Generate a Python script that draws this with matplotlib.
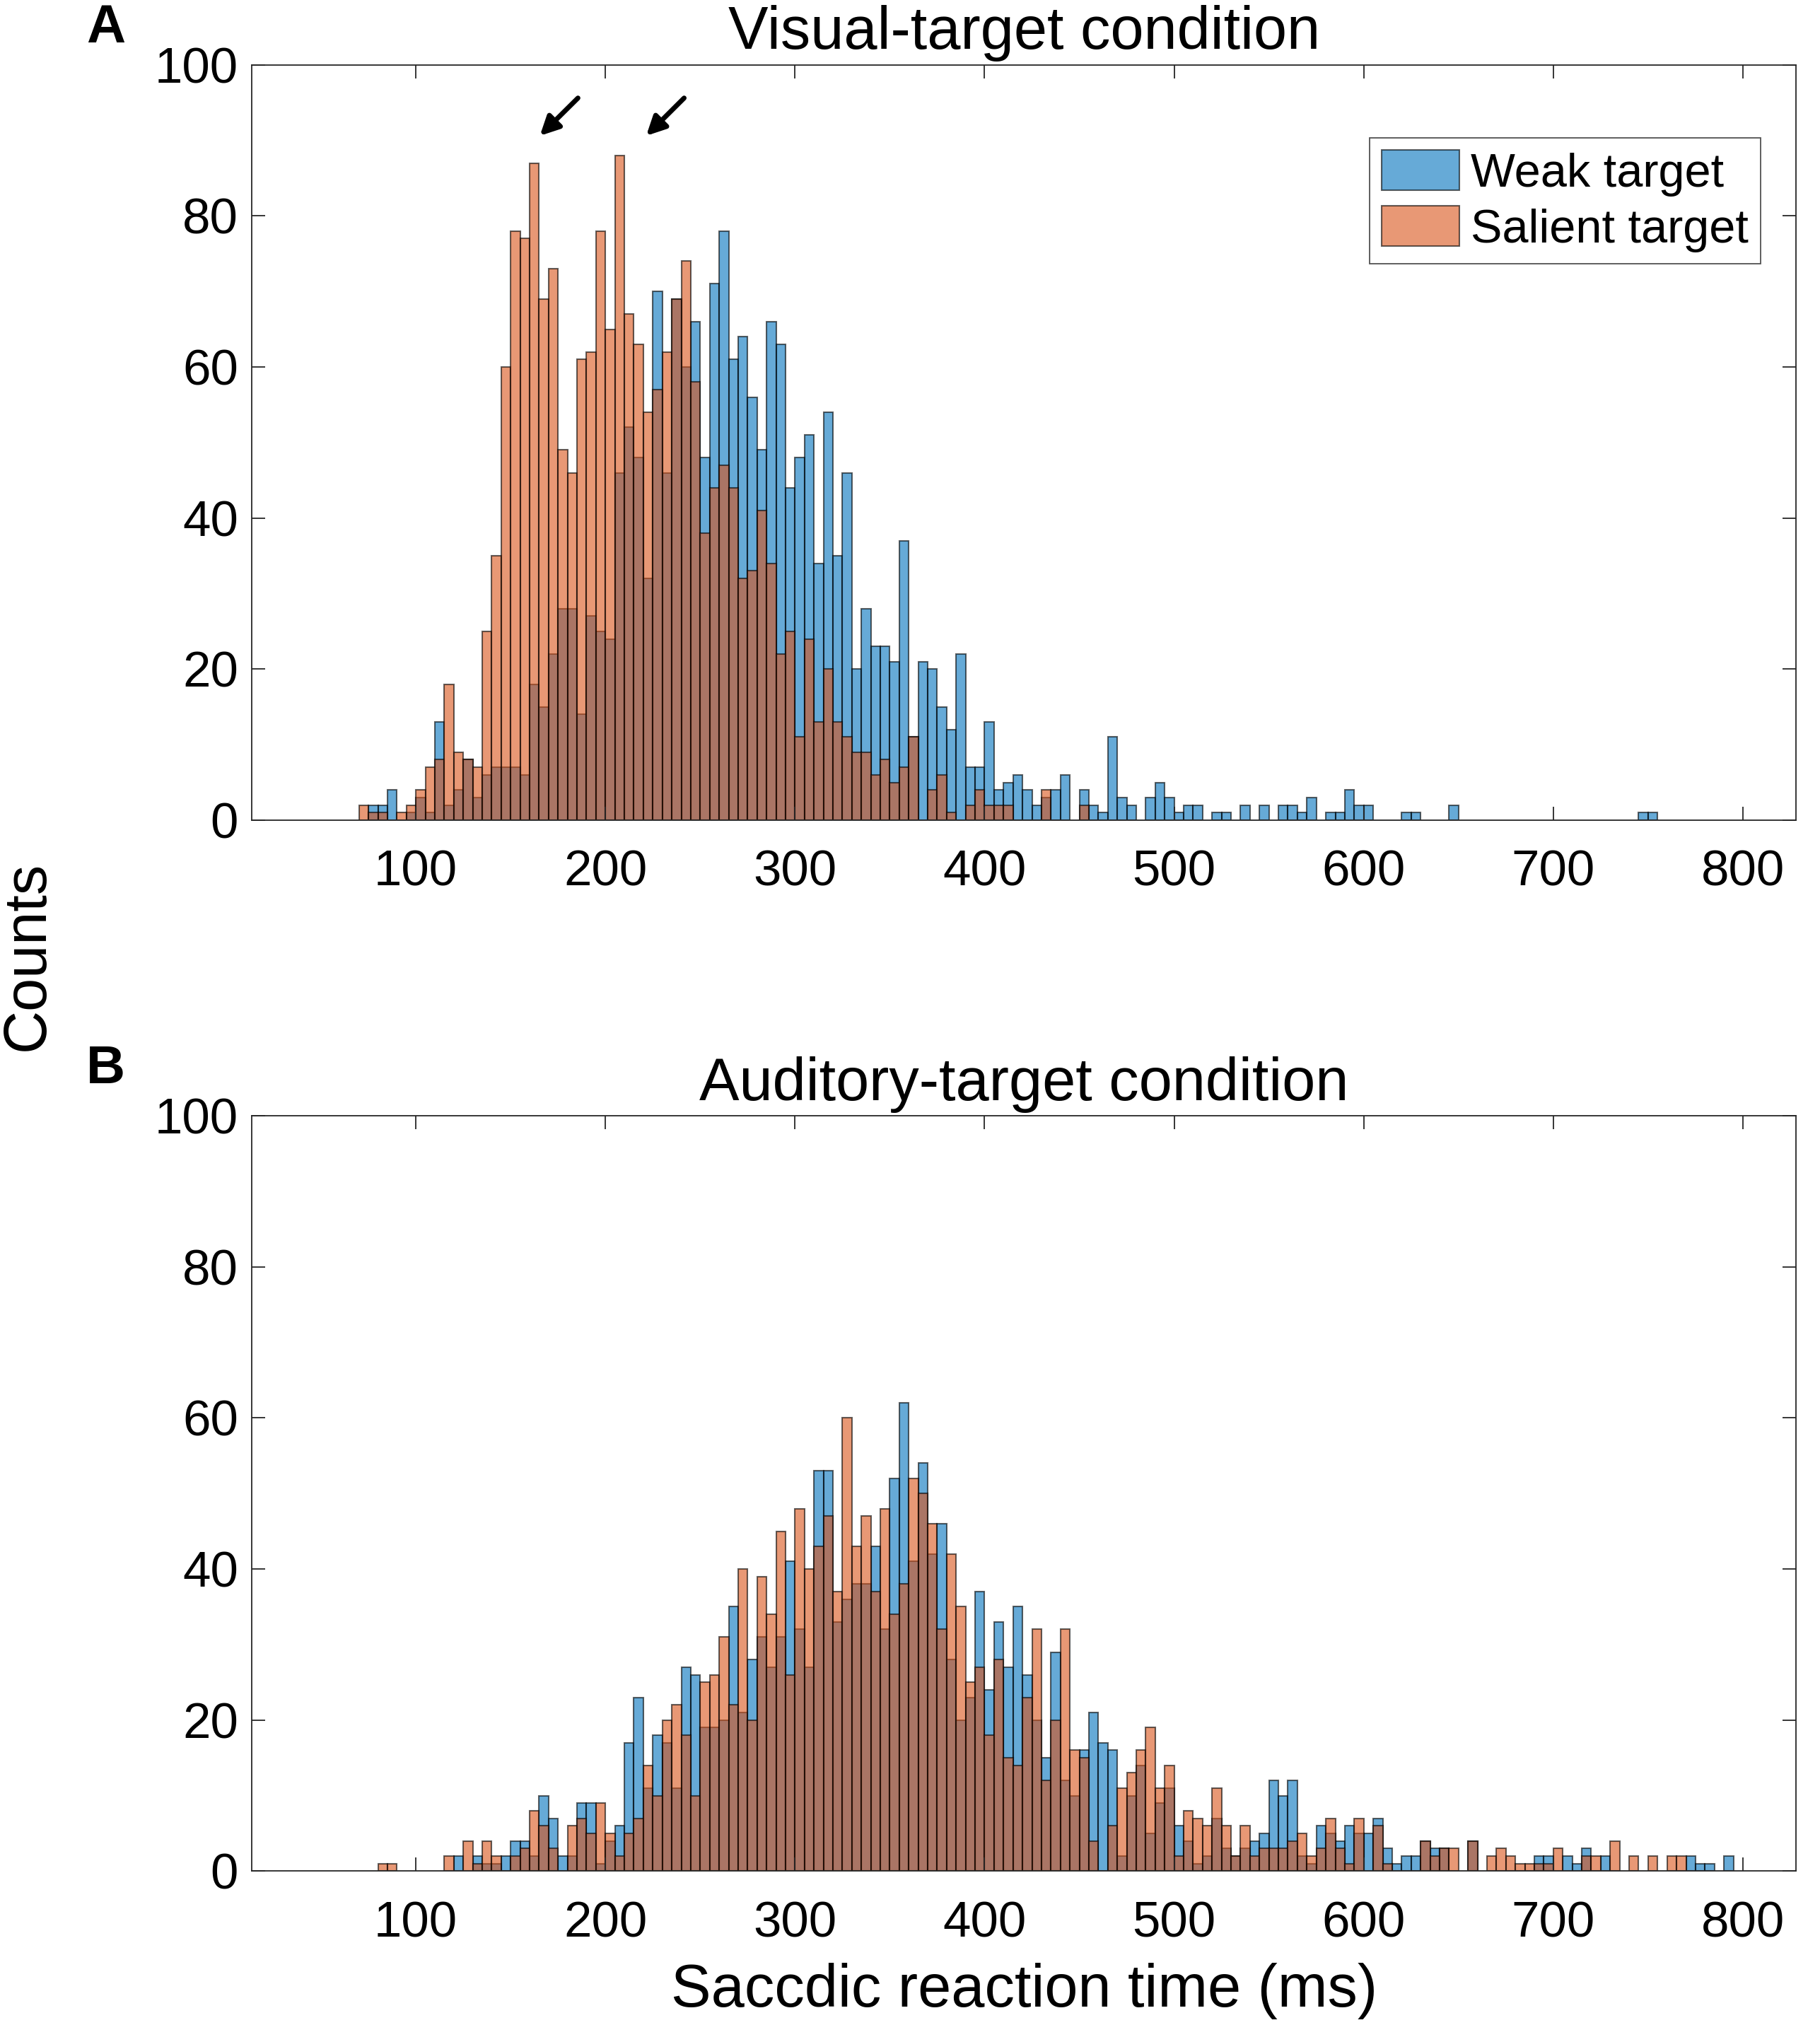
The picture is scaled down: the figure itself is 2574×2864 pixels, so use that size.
import numpy as np
import matplotlib
matplotlib.use("Agg")
import matplotlib.pyplot as plt

plt.rcParams['font.family'] = ['Liberation Sans', 'DejaVu Sans']

# bin starts (ms), 5 ms bins
vis_bins = np.arange(70, 755, 5)
aud_bins = np.arange(80, 795, 5)

# A: visual-target condition
vis_weak = [0, 2, 2, 4, 0, 1, 3, 1, 13, 2, 4, 8, 3, 6, 7, 7, 7, 6, 18, 15,
            22, 28, 28, 14, 27, 25, 24, 46, 52, 48, 32, 70, 46, 69, 60, 66, 48, 71, 78, 61,
            64, 56, 49, 66, 63, 44, 48, 51, 34, 54, 35, 46, 20, 28, 23, 23, 21, 37, 11, 21,
            20, 15, 12, 22, 7, 7, 13, 4, 5, 6, 4, 2, 3, 4, 6, 0, 4, 2, 1, 11,
            3, 2, 0, 3, 5, 3, 1, 2, 2, 0, 1, 1, 0, 2, 0, 2, 0, 2, 2, 1,
            3, 0, 1, 1, 4, 2, 2, 0, 0, 0, 1, 1, 0, 0, 0, 2, 0, 0, 0, 0,
            0, 0, 0, 0, 0, 0, 0, 0, 0, 0, 0, 0, 0, 0, 0, 1, 1]
vis_salient = [2, 1, 1, 0, 1, 2, 4, 7, 8, 18, 9, 8, 7, 25, 35, 60, 78, 77, 87, 69,
               73, 49, 46, 61, 62, 78, 65, 88, 67, 63, 54, 57, 62, 69, 74, 58, 38, 44, 47, 44,
               32, 33, 41, 34, 22, 25, 11, 24, 13, 20, 13, 11, 9, 9, 6, 8, 5, 7, 11, 0,
               4, 6, 1, 0, 2, 4, 2, 2, 2, 0, 0, 0, 4, 0, 0, 0, 2, 0, 0, 0,
               0, 0, 0, 0, 0, 0, 0, 0, 0, 0, 0, 0, 0, 0, 0, 0, 0, 0, 0, 0,
               0, 0, 0, 0, 0, 0, 0, 0, 0, 0, 0, 0, 0, 0, 0, 0, 0, 0, 0, 0,
               0, 0, 0, 0, 0, 0, 0, 0, 0, 0, 0, 0, 0, 0, 0, 0, 0]

# B: auditory-target condition
aud_weak = [0, 0, 0, 0, 0, 0, 0, 0, 2, 0, 2, 1, 1, 2, 4, 4, 2, 10, 7, 2,
            2, 9, 9, 1, 4, 6, 17, 23, 11, 18, 17, 11, 27, 26, 19, 19, 20, 35, 21, 28,
            31, 27, 31, 41, 32, 27, 53, 53, 33, 36, 38, 38, 43, 32, 52, 62, 41, 54, 42, 46,
            28, 20, 23, 37, 24, 33, 27, 35, 26, 20, 15, 29, 12, 10, 16, 21, 17, 16, 2, 10,
            14, 5, 9, 11, 6, 4, 1, 2, 7, 3, 2, 3, 4, 5, 12, 10, 12, 2, 1, 6,
            5, 4, 6, 5, 5, 7, 3, 1, 2, 2, 4, 3, 3, 0, 0, 4, 0, 0, 0, 0,
            0, 0, 2, 2, 0, 2, 1, 3, 0, 2, 0, 0, 0, 0, 0, 0, 0, 0, 2, 1,
            1, 0, 2]
aud_salient = [1, 1, 0, 0, 0, 0, 0, 2, 0, 4, 1, 4, 2, 0, 2, 3, 8, 6, 3, 0,
               6, 7, 5, 9, 5, 2, 5, 7, 14, 10, 20, 22, 18, 10, 25, 26, 31, 22, 40, 20,
               39, 34, 45, 26, 48, 40, 43, 47, 37, 60, 43, 47, 37, 48, 34, 38, 52, 50, 46, 32,
               42, 35, 25, 27, 18, 28, 15, 14, 23, 32, 12, 20, 32, 16, 15, 4, 0, 6, 11, 13,
               16, 19, 11, 14, 2, 8, 7, 6, 11, 6, 2, 6, 2, 3, 3, 3, 4, 5, 2, 3,
               7, 3, 1, 7, 0, 6, 1, 0, 0, 0, 4, 2, 3, 3, 0, 4, 0, 2, 3, 2,
               1, 1, 1, 1, 3, 0, 0, 2, 2, 0, 4, 0, 2, 0, 2, 0, 2, 2, 0, 0,
               0, 0, 0]

blue = (0.0, 0.447, 0.741)
orange = (0.85, 0.325, 0.098)
axcol = (0.15, 0.15, 0.15)

fig = plt.figure(figsize=(25.74, 28.64), dpi=100)
ax1 = fig.add_axes([0.1384, 0.595, 0.8484, 0.373])
ax2 = fig.add_axes([0.1384, 0.076, 0.8484, 0.373])


def draw(ax, bins, weak, salient, title):
    weak = np.array(weak)
    salient = np.array(salient)
    m = weak > 0
    ax.bar(bins[m], weak[m], width=5, align='edge', color=blue, alpha=0.6,
           edgecolor='black', linewidth=1.5, label='Weak target')
    m = salient > 0
    ax.bar(bins[m], salient[m], width=5, align='edge', color=orange, alpha=0.6,
           edgecolor='black', linewidth=1.5, label='Salient target')
    ax.set_xlim(13.5, 828)
    ax.set_ylim(0, 100)
    ax.set_xticks(range(100, 801, 100))
    ax.set_yticks(range(0, 101, 20))
    ax.tick_params(direction='in', top=True, right=True, length=14, width=1.3,
                   labelsize=51, colors=axcol, labelcolor='black')
    ax.tick_params(axis='x', pad=30)
    ax.tick_params(axis='y', pad=14)
    for s in ax.spines.values():
        s.set_linewidth(1.3)
        s.set_color(axcol)
    ax.set_title(title, fontsize=61, pad=16)


draw(ax1, vis_bins, vis_weak, vis_salient, 'Visual-target condition')
draw(ax2, aud_bins, aud_weak, aud_salient, 'Auditory-target condition')

leg = ax1.legend(loc='upper right', bbox_to_anchor=(0.977, 0.903), fontsize=48,
                 frameon=True, fancybox=False, edgecolor=axcol, handlelength=1.65,
                 handleheight=0.95, handletextpad=0.25, borderpad=0.25,
                 labelspacing=0.2, borderaxespad=0)
leg.get_frame().set_linewidth(1.3)

# arrows marking the two peaks
for tip, tail in [((165.4, 90.6), (185.5, 95.6)), ((221.5, 90.6), (241.5, 95.6))]:
    ax1.annotate('', xy=tip, xytext=tail,
                 arrowprops=dict(arrowstyle='-|>', color='black', lw=5,
                                 mutation_scale=40, shrinkA=0, shrinkB=0))

ax2.set_xlabel('Saccdic reaction time (ms)', fontsize=61, labelpad=16)
fig.text(0.0156, 0.528, 'Counts', fontsize=61, rotation=90, ha='center', va='center')
fig.text(0.058, 0.986, 'A', fontsize=55, fontweight='bold', ha='center', va='center')
fig.text(0.058, 0.472, 'B', fontsize=55, fontweight='bold', ha='center', va='center')

fig.savefig('out.png', dpi=100)
